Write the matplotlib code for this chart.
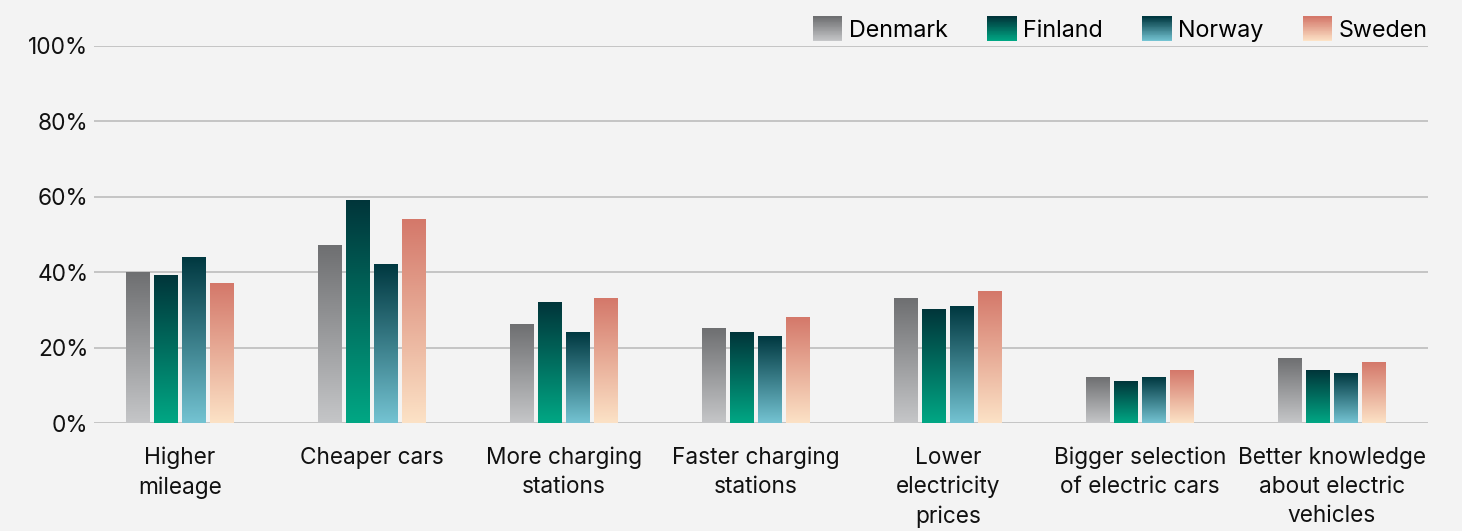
import numpy as np
import matplotlib.pyplot as plt
from matplotlib.colors import LinearSegmentedColormap
from matplotlib.legend_handler import HandlerBase
from matplotlib.patches import Rectangle

plt.rcParams['font.family'] = ['Inter', 'DejaVu Sans']

categories = ["Higher\nmileage", "Cheaper cars", "More charging\nstations",
              "Faster charging\nstations", "Lower\nelectricity\nprices",
              "Bigger selection\nof electric cars",
              "Better knowledge\nabout electric\nvehicles"]
countries = ["Denmark", "Finland", "Norway", "Sweden"]
denmark = [40, 47, 26, 25, 33, 12, 17]
finland = [39, 59, 32, 24, 30, 11, 14]
norway = [44, 42, 24, 23, 31, 12, 13]
sweden = [37, 54, 33, 28, 35, 14, 16]
series = [denmark, finland, norway, sweden]
yticks = [0, 20, 40, 60, 80, 100]

# (top colour, bottom colour) per country
grads = [("#6e6f71", "#c5c6c8"),
         ("#00353a", "#00a784"),
         ("#003840", "#74c3d2"),
         ("#d4786a", "#fce2c6")]
cmaps = [LinearSegmentedColormap.from_list(c, [b, t]) for c, (t, b) in zip(countries, grads)]

bg = "#f3f3f3"
fig = plt.figure(figsize=(14.62, 5.31), dpi=100, facecolor=bg)
ax = fig.add_axes([94 / 1462, 108 / 531, (1428 - 94) / 1462, (423 - 46) / 531])
ax.set_facecolor(bg)

x = np.arange(len(categories))
w = 0.125
step = 0.146
grad = np.linspace(0, 1, 256).reshape(-1, 1)
for i, vals in enumerate(series):
    off = (i - 1.5) * step
    bars = ax.bar(x + off, vals, w, facecolor="none", edgecolor="none", zorder=3, label=countries[i])
    for b in bars:
        x0 = b.get_x()
        h = b.get_height()
        ax.imshow(grad, extent=[x0, x0 + w, 0, h], origin="lower", aspect="auto",
                  cmap=cmaps[i], zorder=3, interpolation="bilinear")

ax.set_xlim(-86 / 192, (1428 - 180) / 192)
ax.set_ylim(0, 100)
ax.set_yticks(yticks)
ax.set_yticklabels([f"{t}%" for t in yticks], fontsize=16.3, color="#111111")
ax.set_xticks(x)
ax.set_xticklabels(categories, fontsize=16.3, color="#111111", linespacing=1.42)
ax.tick_params(axis="both", length=0)
ax.tick_params(axis="x", pad=17)
ax.tick_params(axis="y", pad=4)
ax.grid(axis="y", color="#bcbcbc", linewidth=1.2, zorder=0)
ax.set_axisbelow(True)
for s in ax.spines.values():
    s.set_visible(False)


class GradHandler(HandlerBase):
    def __init__(self, cmap):
        super().__init__()
        self.cmap = cmap

    def create_artists(self, legend, orig_handle, xdescent, ydescent, width, height, fontsize, trans):
        n = 30
        arts = []
        for k in range(n):
            r = Rectangle((-xdescent, -ydescent + height * k / n), width, height / n + 0.3,
                          facecolor=self.cmap(k / (n - 1)), edgecolor="none", transform=trans)
            arts.append(r)
        return arts


handles = [Rectangle((0, 0), 1, 1) for _ in countries]
hmap = {h: GradHandler(cm) for h, cm in zip(handles, cmaps)}
ax.legend(handles, countries, handler_map=hmap, ncol=4, loc="lower right",
          bbox_to_anchor=(1.0, 1.011), frameon=False, fontsize=16.8,
          handlelength=1.27, handleheight=1.23, handletextpad=0.28,
          columnspacing=1.68, borderpad=0, borderaxespad=0)

fig.savefig("out.png", dpi=100, facecolor=bg)
